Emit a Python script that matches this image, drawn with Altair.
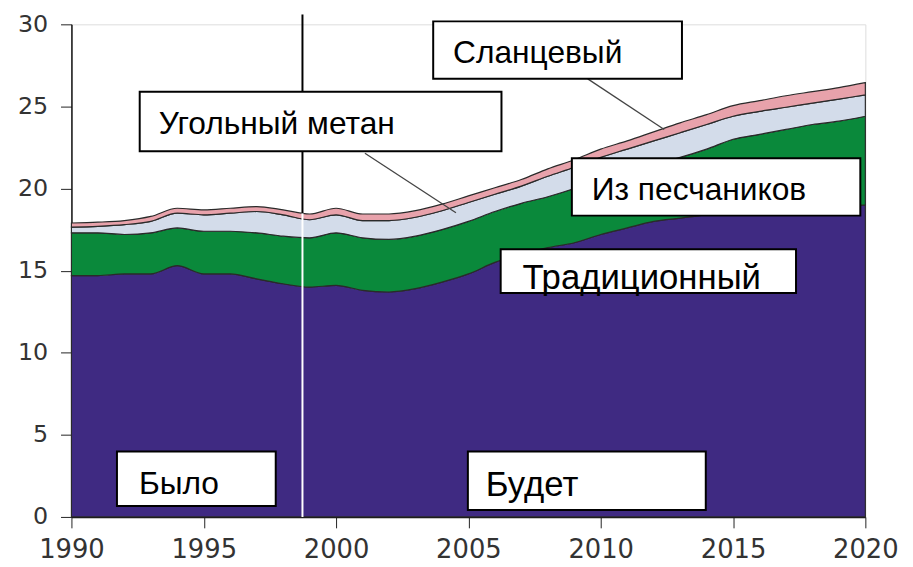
import altair as alt
import pandas as pd

# ---- data ----
years = list(range(1990, 2021))
traditional = [14.7, 14.7, 14.8, 14.8, 15.3, 14.8, 14.8, 14.5, 14.2, 14.0,
               14.1, 13.8, 13.7, 13.9, 14.3, 14.8, 15.5, 16.0, 16.4, 16.7,
               17.2, 17.6, 18.0, 18.2, 18.4, 18.5, 18.6, 18.7, 18.8, 18.9, 19.0]
tight_sands = [2.6, 2.6, 2.4, 2.5, 2.3, 2.6, 2.6, 2.8, 2.9, 3.0,
               3.2, 3.2, 3.2, 3.2, 3.2, 3.2, 3.1, 3.1, 3.1, 3.3,
               3.4, 3.5, 3.5, 3.7, 4.0, 4.5, 4.7, 4.9, 5.1, 5.2, 5.4]
coalbed = [0.35, 0.4, 0.6, 0.7, 0.9, 1.0, 1.1, 1.3, 1.3, 1.1,
           1.1, 1.05, 1.15, 1.15, 1.15, 1.15, 1.05, 1.05, 1.25, 1.3,
           1.3, 1.3, 1.4, 1.5, 1.5, 1.4, 1.4, 1.35, 1.3, 1.35, 1.3]
shale = [0.25, 0.25, 0.25, 0.3, 0.3, 0.3, 0.3, 0.3, 0.3, 0.35,
         0.4, 0.4, 0.4, 0.4, 0.4, 0.4, 0.4, 0.4, 0.45, 0.45,
         0.5, 0.5, 0.55, 0.6, 0.6, 0.65, 0.65, 0.7, 0.7, 0.7, 0.75]

series_names = ["Традиционный", "Из песчаников", "Угольный метан", "Сланцевый"]
series_values = [traditional, tight_sands, coalbed, shale]
series_colors = ["#3f2a82", "#0a893b", "#d3dcea", "#e8a2ab"]

x_ticks = [1990, 1995, 2000, 2005, 2010, 2015, 2020]
y_ticks = [0, 5, 10, 15, 20, 25, 30]

# annotation boxes (data coordinates)
box_labels = ["Угольный метан", "Сланцевый", "Из песчаников", "Традиционный", "Было", "Будет"]
box_x1 = [1992.58, 2003.67, 2008.91, 2006.22, 1991.72, 2004.98]
box_x2 = [2006.25, 2013.07, 2019.81, 2017.38, 1997.72, 2013.97]
box_y1 = [25.89, 30.18, 21.85, 16.30, 3.98, 3.98]
box_y2 = [22.27, 26.68, 18.35, 13.64, 0.66, 0.42]
text_x = [1993.30, 2004.42, 2009.66, 2007.04, 1992.55, 2005.66]
text_y = [23.30, 27.65, 19.32, 13.88, 1.39, 1.27]
wide_labels = ["Традиционный", "Будет"]

# leader lines
lead_x1 = [2001.09, 2009.51]
lead_y1 = [22.15, 26.68]
lead_x2 = [2004.53, 2012.40]
lead_y2 = [18.53, 23.60]

divider_year = 1998.73
divider_total = 18.5
divider_top = 30.6

# ---- tables ----
rows = []
for k, (name, vals) in enumerate(zip(series_names, series_values)):
    for yr, v in zip(years, vals):
        rows.append({"year": yr, "value": v, "series": name, "order": k})
df = pd.DataFrame(rows)

boxes = pd.DataFrame({"label": box_labels, "x1": box_x1, "x2": box_x2,
                      "y1": box_y1, "y2": box_y2, "tx": text_x, "ty": text_y})
boxes_n = boxes[~boxes["label"].isin(wide_labels)]
boxes_w = boxes[boxes["label"].isin(wide_labels)]
leads = pd.DataFrame({"x1": lead_x1, "y1": lead_y1, "x2": lead_x2, "y2": lead_y2})
div = pd.DataFrame({"x": [divider_year, divider_year],
                    "y1": [0, divider_total], "y2": [divider_total, divider_top],
                    "c": ["white", "black"]})

xscale = alt.Scale(domain=[1990, 2020], nice=False, zero=False)
yscale = alt.Scale(domain=[0, 30], nice=False)

x_axis = alt.Axis(values=x_ticks, format="d", title=None, grid=False,
                  labelFont="DejaVu Sans", labelFontSize=26, labelColor="#333333",
                  tickSize=11, tickColor="#222222", labelPadding=9,
                  domainColor="#111111", domainWidth=1.5, labelFlush=False)
y_axis = alt.Axis(values=y_ticks, title=None, grid=False,
                  labelFont="DejaVu Sans", labelFontSize=24, labelColor="#333333",
                  tickSize=11, tickColor="#222222", labelPadding=13,
                  domainColor="#111111", domainWidth=1.5)

areas = alt.Chart(df).mark_area(stroke="#2a2a2a", strokeWidth=1.2, interpolate="monotone").encode(
    x=alt.X("year:Q", scale=xscale, axis=x_axis),
    y=alt.Y("value:Q", stack="zero", scale=yscale, axis=y_axis),
    color=alt.Color("series:N", scale=alt.Scale(domain=series_names, range=series_colors), legend=None),
    order=alt.Order("order:Q", sort="ascending"),
)

divider = alt.Chart(div).mark_rule(strokeWidth=2).encode(
    x="x:Q", y="y1:Q", y2="y2:Q",
    color=alt.Color("c:N", scale=None),
)

leaders = alt.Chart(leads).mark_rule(color="#444444", strokeWidth=1.3).encode(
    x="x1:Q", y="y1:Q", x2="x2:Q", y2="y2:Q"
)

rects = alt.Chart(boxes).mark_rect(fill="white", stroke="black", strokeWidth=2).encode(
    x="x1:Q", x2="x2:Q", y="y1:Q", y2="y2:Q"
)

texts = alt.Chart(boxes_n).mark_text(align="left", baseline="alphabetic", font="Liberation Sans",
                                     fontSize=32, color="black").encode(
    x="tx:Q", y="ty:Q", text="label:N"
)
texts_w = alt.Chart(boxes_w).mark_text(align="left", baseline="alphabetic", font="Liberation Sans",
                                       fontSize=35, color="black").encode(
    x="tx:Q", y="ty:Q", text="label:N"
)

chart = alt.layer(areas, divider, leaders, rects, texts, texts_w).properties(
    width=801, height=497,
    padding={"left": 64, "top": 14, "right": 40, "bottom": 45},
    autosize=alt.AutoSizeParams(type="none"),
).configure_view(stroke=None).configure(background="white")

chart.save("out.html", embed_options={"renderer": "svg", "actions": False})
